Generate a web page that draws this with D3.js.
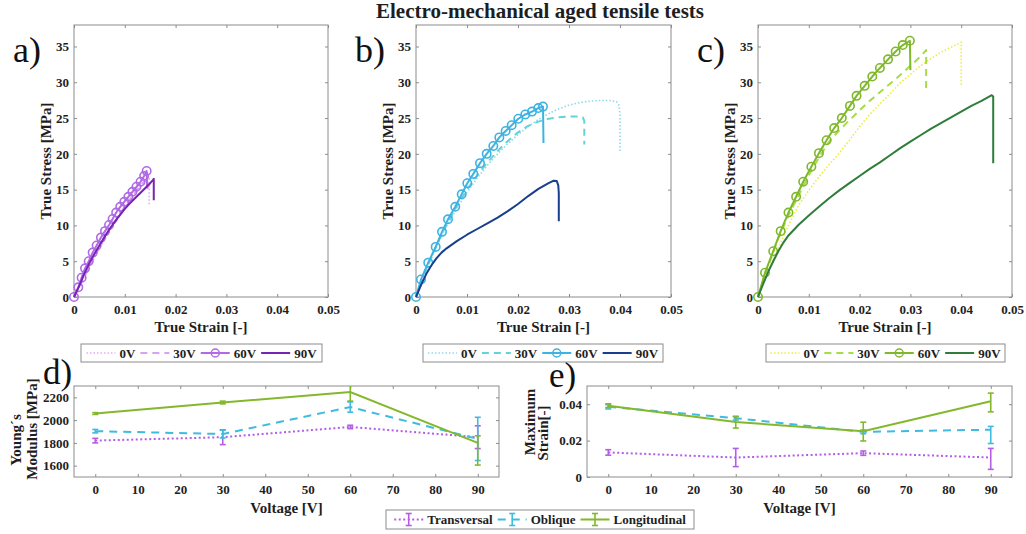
<!DOCTYPE html>
<html><head><meta charset="utf-8">
<script src="https://cdn.jsdelivr.net/npm/d3@7"></script>
<style>body{margin:0;background:#fff}svg{display:block}</style>
</head><body><svg id="c" width="1026" height="534"></svg>
<script>
// ---------- DATA ----------
const title = "Electro-mechanical aged tensile tests";
const strainTicks = [0, 0.01, 0.02, 0.03, 0.04, 0.05];
const stressTicks = [0, 5, 10, 15, 20, 25, 30, 35];
const seriesNames = ["0V", "30V", "60V", "90V"];

// panel a) [strain, stress]
const a0V = [[0,0],[0.001,1.4],[0.002,2.8],[0.003,4.2],[0.004,5.5],[0.005,6.8],[0.006,8.0],[0.007,9.2],[0.008,10.3],[0.009,11.4],[0.010,12.4],[0.011,13.4],[0.012,14.4],[0.013,15.3],[0.014,16.2],[0.0147,16.8],[0.0148,16.5],[0.0148,12.9]];
const a30V = [[0,0],[0.001,1.4],[0.002,2.8],[0.003,4.2],[0.004,5.6],[0.005,6.9],[0.006,8.2],[0.007,9.4],[0.008,10.5],[0.009,11.6],[0.010,12.6],[0.011,13.6],[0.012,14.6],[0.013,15.5],[0.014,16.3],[0.0145,16.6],[0.0145,15.0]];
const a60V = [[0,0],[0.00085,1.35],[0.0015,2.7],[0.00217,4.0],[0.0029,5.0],[0.00367,6.2],[0.00446,7.2],[0.0053,8.3],[0.0061,9.2],[0.0069,10.06],[0.0076,10.9],[0.0083,11.8],[0.0091,12.6],[0.0099,13.3],[0.0107,14.0],[0.0115,14.7],[0.0123,15.4],[0.0131,16.1],[0.0138,16.9],[0.0143,17.6],[0.0144,15.2]];
const a90V = [[0,0],[0.001,1.5],[0.002,3.2],[0.003,4.7],[0.004,6.0],[0.005,7.2],[0.006,8.4],[0.007,9.5],[0.008,10.5],[0.009,11.4],[0.010,12.3],[0.011,13.1],[0.012,13.8],[0.013,14.5],[0.014,15.2],[0.015,15.9],[0.0156,16.4],[0.0157,16.5],[0.0157,13.5]];

// panel b)
const b0V = [[0,0],[0.002,3.8],[0.004,7.0],[0.006,9.9],[0.008,12.4],[0.010,14.6],[0.012,16.6],[0.014,18.4],[0.016,20.0],[0.018,21.4],[0.020,22.7],[0.022,23.8],[0.024,24.8],[0.026,25.6],[0.028,26.3],[0.030,26.8],[0.032,27.15],[0.034,27.35],[0.036,27.45],[0.038,27.45],[0.0393,27.3],[0.0398,26.8],[0.040,25.5],[0.040,20.2]];
const b30V = [[0,0],[0.002,3.9],[0.004,7.2],[0.006,10.1],[0.008,12.7],[0.010,15.0],[0.012,17.0],[0.014,18.8],[0.016,20.4],[0.018,21.8],[0.020,23.0],[0.022,23.9],[0.024,24.5],[0.026,24.9],[0.028,25.1],[0.030,25.2],[0.032,25.2],[0.0327,25.1],[0.033,24.6],[0.033,21.3]];
const b60V = [[0,0],[0.00098,2.45],[0.0024,4.8],[0.00386,7.0],[0.0051,9.1],[0.00627,10.85],[0.0077,12.6],[0.00896,14.35],[0.01006,15.9],[0.01124,17.2],[0.01255,18.7],[0.01386,20.0],[0.01516,21.1],[0.01634,22.3],[0.01758,23.2],[0.01876,24.0],[0.02006,24.9],[0.02143,25.5],[0.02275,25.9],[0.02398,26.4],[0.0249,26.6],[0.0250,21.5]];
const b90V = [[0,0],[0.001,1.7],[0.002,3.2],[0.003,4.4],[0.004,5.4],[0.005,6.2],[0.006,6.8],[0.008,7.8],[0.010,8.7],[0.012,9.5],[0.014,10.3],[0.016,11.1],[0.018,12.0],[0.020,13.0],[0.022,14.1],[0.024,15.1],[0.026,15.9],[0.027,16.25],[0.0276,16.2],[0.0279,15.6],[0.028,14.5],[0.028,10.6]];

// panel c)
const c0V = [[0,0],[0.002,3.6],[0.004,6.9],[0.006,10.0],[0.008,12.8],[0.010,14.9],[0.012,16.8],[0.014,18.5],[0.016,20.1],[0.018,21.9],[0.020,23.8],[0.022,25.5],[0.024,27.0],[0.026,28.4],[0.028,29.9],[0.030,31.1],[0.032,32.3],[0.034,33.3],[0.036,34.2],[0.038,34.9],[0.0395,35.4],[0.040,35.6],[0.040,29.5]];
const c30V = [[0,0],[0.002,4.3],[0.004,8.2],[0.006,11.4],[0.008,14.2],[0.010,17.0],[0.012,19.5],[0.014,21.7],[0.016,23.3],[0.018,24.7],[0.020,26.1],[0.022,27.4],[0.024,28.6],[0.026,29.8],[0.028,31.0],[0.030,32.3],[0.032,33.6],[0.033,34.4],[0.0331,34.5],[0.0331,28.9]];
const c60V = [[0,0],[0.00138,3.4],[0.003,6.4],[0.00446,9.2],[0.006,11.8],[0.0075,14.0],[0.0089,16.1],[0.0105,18.2],[0.012,20.1],[0.0135,21.9],[0.015,23.6],[0.0165,25.0],[0.0181,26.7],[0.0194,28.1],[0.021,29.5],[0.0225,30.8],[0.024,32.0],[0.0256,33.2],[0.0271,34.3],[0.0285,35.2],[0.0299,35.8],[0.0300,31.7]];
const c90V = [[0,0],[0.001,1.8],[0.002,3.5],[0.003,5.0],[0.004,6.4],[0.005,7.6],[0.006,8.6],[0.008,10.1],[0.010,11.4],[0.012,12.6],[0.014,13.8],[0.016,14.9],[0.018,15.9],[0.020,16.9],[0.022,17.9],[0.024,18.8],[0.026,19.8],[0.028,20.8],[0.030,21.7],[0.032,22.6],[0.034,23.5],[0.036,24.3],[0.038,25.1],[0.040,25.9],[0.042,26.7],[0.044,27.4],[0.0455,28.0],[0.046,28.2],[0.0463,28.0],[0.0463,18.7]];

// panels d) and e)
const voltage = [0, 30, 60, 90];
const voltTicks = [0,10,20,30,40,50,60,70,80,90];
const modTicks = [1600,1800,2000,2200];
const maxStrainTicks = [0, 0.02, 0.04];
const orientNames = ["Transversal", "Oblique", "Longitudinal"];

const modTransversal = [1820, 1850, 1940, 1850];
const modTransversalLo = [20, 65, 15, 100];
const modTransversalHi = [20, 65, 15, 100];
const modOblique = [1903, 1878, 2115, 1835];
const modObliqueLo = [15, 35, 45, 190];
const modObliqueHi = [15, 35, 45, 190];
const modLongitudinal = [2058, 2155, 2247, 1800];
const modLongitudinalLo = [8, 12, 80, 195];
const modLongitudinalHi = [8, 12, 80, 62];

const strTransversal = [0.0135, 0.0107, 0.0131, 0.0107];
const strTransversalLo = [0.0015, 0.005, 0.0012, 0.0065];
const strTransversalHi = [0.0015, 0.005, 0.0012, 0.005];
const strOblique = [0.0386, 0.0323, 0.0248, 0.026];
const strObliqueLo = [0.0012, 0.001, 0.001, 0.0076];
const strObliqueHi = [0.0012, 0.001, 0.001, 0.0018];
const strLongitudinal = [0.0392, 0.0302, 0.0251, 0.0416];
const strLongitudinalLo = [0.001, 0.0033, 0.0053, 0.0058];
const strLongitudinalHi = [0.001, 0.0030, 0.0050, 0.0045];

// ---------- DRAWING ----------
const FONT = '"Liberation Serif","Times New Roman",serif';
const AX = '#8c8c8c', TXT = '#1e1e1e';
const svg = d3.select('#c').attr('font-family', FONT);

svg.append('text').attr('x', 540).attr('y', 18).attr('text-anchor', 'middle')
  .attr('font-size', 21).attr('font-weight', 'bold').attr('fill', TXT).text(title);

let clipId = 0;
function frame(x, y, xt, yt, xfmt, yfmt, xpad) {
  const [x0, x1] = x.range(), [y0, y1] = y.range();
  const g = svg.append('g');
  g.append('rect').attr('x', x0).attr('y', y1).attr('width', x1 - x0).attr('height', y0 - y1)
    .attr('fill', 'none').attr('stroke', AX).attr('stroke-width', 1);
  const ax = (gen, tr) => {
    const a = g.append('g').attr('transform', tr).call(gen);
    a.attr('font-family', FONT).attr('font-size', 13);
    a.select('.domain').remove();
    a.selectAll('line').attr('stroke', AX);
    a.selectAll('text').attr('font-family', FONT).attr('font-size', 13).attr('font-weight', 'bold').attr('fill', TXT);
    return a;
  };
  const none = () => '';
  ax(d3.axisBottom(x).tickValues(xt).tickFormat(xfmt).tickSize(-3).tickPadding(xpad), `translate(0,${y0})`);
  ax(d3.axisTop(x).tickValues(xt).tickFormat(none).tickSize(-3), `translate(0,${y1})`);
  ax(d3.axisLeft(y).tickValues(yt).tickFormat(yfmt).tickSize(-3).tickPadding(5), `translate(${x0},0)`);
  ax(d3.axisRight(y).tickValues(yt).tickFormat(none).tickSize(-3), `translate(${x1},0)`);
  const id = 'clip' + (clipId++);
  svg.append('clipPath').attr('id', id).append('rect').attr('x', x0).attr('y', y1).attr('width', x1 - x0).attr('height', y0 - y1);
  return id;
}
function label(txt, x, y, size, rot, weight) {
  const t = svg.append('text').attr('font-size', size).attr('font-weight', weight || 'bold').attr('fill', TXT)
    .attr('text-anchor', 'middle').text(txt);
  if (rot) t.attr('transform', `translate(${x},${y}) rotate(-90)`).attr('dy', '0.35em');
  else t.attr('x', x).attr('y', y);
  return t;
}

const strainFmt = d => d === 0 ? '0' : d.toFixed(2);
const styles = {
  a: [{c:'#e9a7f4', dash:'1.5,2', w:1.6}, {c:'#d9a2f0', dash:'7,5', w:2}, {c:'#b16ae6', dash:null, w:2, mk:true}, {c:'#7624b3', dash:null, w:2}],
  b: [{c:'#8fd9ee', dash:'1.5,2', w:1.6}, {c:'#62d3d8', dash:'7,5', w:2}, {c:'#3eb3e2', dash:null, w:2, mk:true}, {c:'#173f8e', dash:null, w:2}],
  c: [{c:'#ecee3c', dash:'1.5,2', w:1.6}, {c:'#a5dc48', dash:'7,5', w:2}, {c:'#7fb82c', dash:null, w:2, mk:true}, {c:'#2f7d3b', dash:null, w:2}]
};
const panels = [
  {k:'a', lab:'a)', lx:13, x0:74, x1:328, data:[a0V,a30V,a60V,a90V], lg:[81,344,241,18]},
  {k:'b', lab:'b)', lx:355, x0:416, x1:671, data:[b0V,b30V,b60V,b90V], lg:[423,344,240,18]},
  {k:'c', lab:'c)', lx:697, x0:758, x1:1012, data:[c0V,c30V,c60V,c90V], lg:[766,344,239,18]}
];

function drawLegend(bx, by, bw, bh, items, sampleLen, fontSize, gap, drawSample) {
  const g = svg.append('g');
  g.append('rect').attr('x', bx).attr('y', by).attr('width', bw).attr('height', bh)
    .attr('fill', '#fff').attr('stroke', AX).attr('stroke-width', 1);
  const widths = items.map(it => {
    const t = g.append('text').attr('font-size', fontSize).attr('font-weight', 'bold').text(it.name);
    const w = t.node().getComputedTextLength(); t.remove(); return w;
  });
  const total = d3.sum(widths) + items.length * (sampleLen + 4) + (items.length - 1) * gap;
  let cx = bx + (bw - total) / 2;
  const cy = by + bh / 2;
  items.forEach((it, i) => {
    drawSample(g, it, cx, cx + sampleLen, cy);
    g.append('text').attr('x', cx + sampleLen + 4).attr('y', cy).attr('dy', '0.35em')
      .attr('font-size', fontSize).attr('font-weight', 'bold').attr('fill', TXT).text(it.name);
    cx += sampleLen + 4 + widths[i] + gap;
  });
}

panels.forEach(p => {
  const x = d3.scaleLinear().domain([0, 0.05]).range([p.x0, p.x1]);
  const y = d3.scaleLinear().domain([0, 38]).range([297, 25]);
  frame(x, y, strainTicks, stressTicks, strainFmt, d3.format('d'), 8);
  const line = d3.line().x(d => x(d[0])).y(d => y(d[1]));
  const st = styles[p.k];
  p.data.forEach((ser, i) => {
    const s = st[i];
    svg.append('path').datum(ser).attr('d', line).attr('fill', 'none').attr('stroke', s.c)
      .attr('stroke-width', s.w).attr('stroke-dasharray', s.dash).attr('stroke-linejoin', 'round');
    if (s.mk) {
      svg.append('g').selectAll('circle').data(ser.slice(0, -1)).join('circle')
        .attr('cx', d => x(d[0])).attr('cy', d => y(d[1])).attr('r', 4.2)
        .attr('fill', 'none').attr('stroke', s.c).attr('stroke-width', 1.6);
    }
  });
  label('True Strain [-]', (p.x0 + p.x1) / 2, 332, 15);
  label('True Stress [MPa]', p.x0 - 28, 161, 15, true);
  svg.append('text').attr('x', p.lx).attr('y', 62).attr('font-size', 36).attr('fill', '#111').text(p.lab);
  const items = seriesNames.map((n, i) => ({name: n, s: st[i]}));
  drawLegend(p.lg[0], p.lg[1], p.lg[2], p.lg[3], items, 29, 13, 5, (g, it, xa, xb, cy) => {
    g.append('line').attr('x1', xa).attr('x2', xb).attr('y1', cy).attr('y2', cy).attr('stroke', it.s.c)
      .attr('stroke-width', it.s.w).attr('stroke-dasharray', it.s.dash);
    if (it.s.mk) g.append('circle').attr('cx', (xa + xb) / 2).attr('cy', cy).attr('r', 4)
      .attr('fill', 'none').attr('stroke', it.s.c).attr('stroke-width', 1.5);
  });
});

// bottom panels
const oStyles = [{c:'#b45de6', dash:'2,2.5'}, {c:'#3fbbe0', dash:'8,6'}, {c:'#84b82c', dash:null}];
function errPanel(x0, x1, dom, yt, yfmt, sets, lab, lx, lby, ylab1, ylab2) {
  const x = d3.scaleLinear().domain([-5, 95]).range([x0, x1]);
  const y = d3.scaleLinear().domain(dom).range([477, 386]);
  const cid = frame(x, y, voltTicks, yt, d3.format('d'), yfmt, 8);
  const g = svg.append('g').attr('clip-path', `url(#${cid})`);
  const line = d3.line().x((d, i) => x(voltage[i])).y(d => y(d));
  sets.forEach((set, si) => {
    const s = oStyles[si];
    g.append('path').datum(set[0]).attr('d', line).attr('fill', 'none').attr('stroke', s.c)
      .attr('stroke-width', 2).attr('stroke-dasharray', s.dash);
    set[0].forEach((v, i) => {
      const xx = x(voltage[i]), ya = y(v - set[1][i]), yb = y(v + set[2][i]);
      g.append('line').attr('x1', xx).attr('x2', xx).attr('y1', ya).attr('y2', yb).attr('stroke', s.c).attr('stroke-width', 1.6);
      [ya, yb].forEach(yy => g.append('line').attr('x1', xx - 3).attr('x2', xx + 3).attr('y1', yy).attr('y2', yy)
        .attr('stroke', s.c).attr('stroke-width', 1.6));
    });
  });
  label('Voltage [V]', (x0 + x1) / 2, 513, 15);
  label(ylab1[0], ylab1[1], ylab1[2], 15, true);
  label(ylab2[0], ylab2[1], ylab2[2], 15, true);
  svg.append('text').attr('x', lx).attr('y', lby).attr('font-size', 35).attr('fill', '#111').text(lab);
}
errPanel(74, 499, [1500, 2300], modTicks, d3.format('d'),
  [[modTransversal, modTransversalLo, modTransversalHi], [modOblique, modObliqueLo, modObliqueHi], [modLongitudinal, modLongitudinalLo, modLongitudinalHi]],
  'd)', 43, 384, ['Young´s', 16, 440], ['Modulus [MPa]', 32, 429]);
errPanel(587, 1012, [0, 0.05], maxStrainTicks, strainFmt,
  [[strTransversal, strTransversalLo, strTransversalHi], [strOblique, strObliqueLo, strObliqueHi], [strLongitudinal, strLongitudinalLo, strLongitudinalHi]],
  'e)', 549, 387, ['Maximum', 530, 422], ['Strain[-]', 543, 433]);

drawLegend(386, 510, 308, 19, orientNames.map((n, i) => ({name: n, s: oStyles[i]})), 29, 13, 5, (g, it, xa, xb, cy) => {
  g.append('line').attr('x1', xa).attr('x2', xb).attr('y1', cy).attr('y2', cy).attr('stroke', it.s.c)
    .attr('stroke-width', 2).attr('stroke-dasharray', it.s.dash);
  const xm = (xa + xb) / 2;
  g.append('line').attr('x1', xm).attr('x2', xm).attr('y1', cy - 6).attr('y2', cy + 6).attr('stroke', it.s.c).attr('stroke-width', 1.6);
  [cy - 6, cy + 6].forEach(yy => g.append('line').attr('x1', xm - 3).attr('x2', xm + 3).attr('y1', yy).attr('y2', yy).attr('stroke', it.s.c).attr('stroke-width', 1.6));
});
</script></body></html>
